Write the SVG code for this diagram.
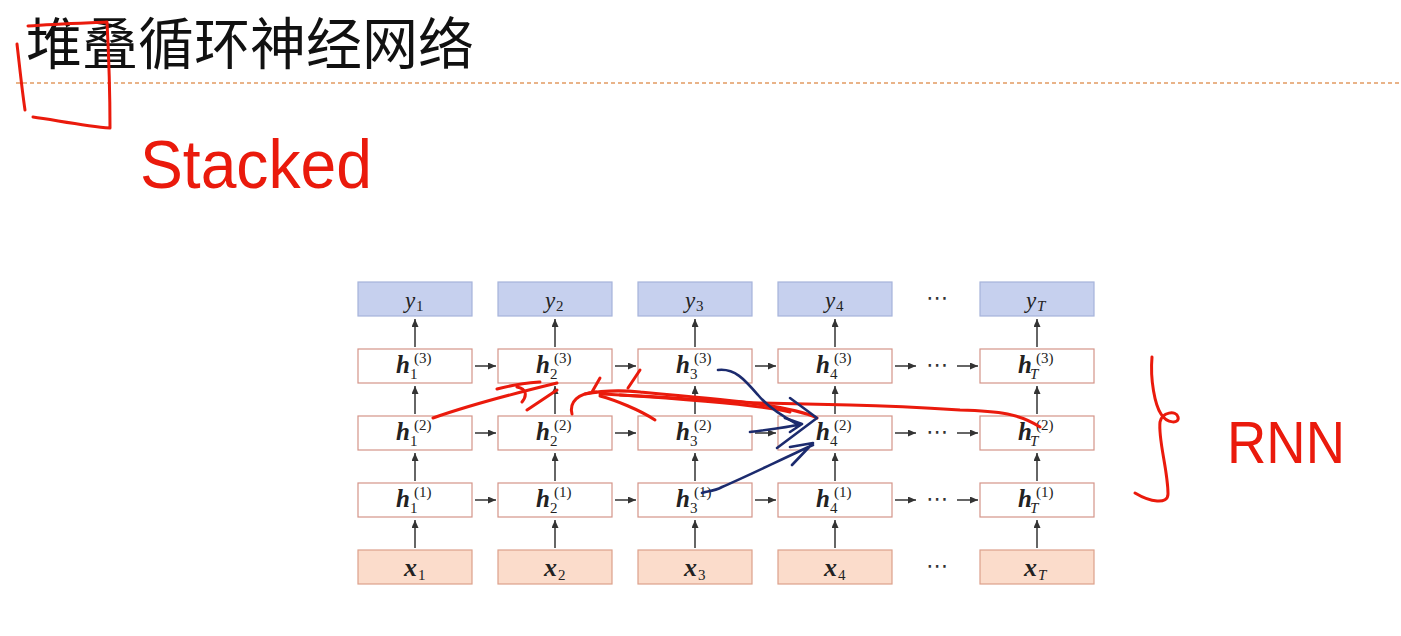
<svg xmlns="http://www.w3.org/2000/svg" width="1401" height="636" viewBox="0 0 1401 636">
<defs>
<marker id="ah" markerWidth="8" markerHeight="7" refX="8" refY="3.5" orient="auto" markerUnits="userSpaceOnUse"><path d="M0,0 L8,3.5 L0,7 z" fill="#333"/></marker>
<style>
.yb{fill:#c6d0ee;stroke:#a6b3da;stroke-width:1.2}
.hb{fill:#fff;stroke:#d49489;stroke-width:1.2}
.xb{fill:#fbdccb;stroke:#dda08b;stroke-width:1.2}
.yl{font-family:"Liberation Serif",serif;font-style:italic;font-size:23px;fill:#222}
.hl{font-family:"Liberation Serif",serif;font-style:italic;font-weight:bold;font-size:25px;fill:#222}
.xl{font-family:"Liberation Serif",serif;font-style:italic;font-weight:bold;font-size:26px;fill:#222}
.s{font-style:normal;font-weight:normal;font-size:15px}
.si{font-style:italic;font-weight:normal;font-size:15px}
.dots{font-family:"DejaVu Sans",sans-serif;font-size:22px;fill:#333}
.ar{stroke:#333;stroke-width:1.5;fill:none;marker-end:url(#ah)}
.red{stroke:#ea1a0c;stroke-width:3;fill:none;stroke-linecap:round;stroke-linejoin:round}
.blue{stroke:#1c2b6e;stroke-width:2.6;fill:none;stroke-linecap:round;stroke-linejoin:round}
.hand{font-family:"Liberation Sans",sans-serif;fill:#ea1a0c}
</style>
</defs>
<rect width="1401" height="636" fill="#fff"/>
<text x="26" y="64" font-family="Noto Sans CJK SC, sans-serif" font-size="56" fill="#111">堆叠循环神经网络</text>
<line x1="16" y1="83" x2="1401" y2="83" stroke="#e29a62" stroke-width="1.5" stroke-dasharray="4 3"/>

<g id="y1"><rect class="yb" x="358" y="282" width="114" height="34"/><text class="yl" x="405" y="308">y<tspan class="s" x="416" y="311">1</tspan></text></g>
<g id="y2"><rect class="yb" x="498" y="282" width="114" height="34"/><text class="yl" x="545" y="308">y<tspan class="s" x="556" y="311">2</tspan></text></g>
<g id="y3"><rect class="yb" x="638" y="282" width="114" height="34"/><text class="yl" x="685" y="308">y<tspan class="s" x="696" y="311">3</tspan></text></g>
<g id="y4"><rect class="yb" x="778" y="282" width="114" height="34"/><text class="yl" x="825" y="308">y<tspan class="s" x="836" y="311">4</tspan></text></g>
<g id="yT"><rect class="yb" x="980" y="282" width="114" height="34"/><text class="yl" x="1026" y="308">y<tspan class="si" x="1037" y="311">T</tspan></text></g>

<g id="h3_1"><rect class="hb" x="358" y="349" width="114" height="34"/><text class="hl" x="396" y="373">h<tspan class="s" x="410" y="379">1</tspan><tspan class="s" x="414" y="363">(3)</tspan></text></g>
<g id="h3_2"><rect class="hb" x="498" y="349" width="114" height="34"/><text class="hl" x="536" y="373">h<tspan class="s" x="550" y="379">2</tspan><tspan class="s" x="554" y="363">(3)</tspan></text></g>
<g id="h3_3"><rect class="hb" x="638" y="349" width="114" height="34"/><text class="hl" x="676" y="373">h<tspan class="s" x="690" y="379">3</tspan><tspan class="s" x="694" y="363">(3)</tspan></text></g>
<g id="h3_4"><rect class="hb" x="778" y="349" width="114" height="34"/><text class="hl" x="816" y="373">h<tspan class="s" x="830" y="379">4</tspan><tspan class="s" x="834" y="363">(3)</tspan></text></g>
<g id="h3_T"><rect class="hb" x="980" y="349" width="114" height="34"/><text class="hl" x="1018" y="373">h<tspan class="si" x="1030" y="379">T</tspan><tspan class="s" x="1036" y="363">(3)</tspan></text></g>

<g id="h2_1"><rect class="hb" x="358" y="416" width="114" height="34"/><text class="hl" x="396" y="440">h<tspan class="s" x="410" y="446">1</tspan><tspan class="s" x="414" y="430">(2)</tspan></text></g>
<g id="h2_2"><rect class="hb" x="498" y="416" width="114" height="34"/><text class="hl" x="536" y="440">h<tspan class="s" x="550" y="446">2</tspan><tspan class="s" x="554" y="430">(2)</tspan></text></g>
<g id="h2_3"><rect class="hb" x="638" y="416" width="114" height="34"/><text class="hl" x="676" y="440">h<tspan class="s" x="690" y="446">3</tspan><tspan class="s" x="694" y="430">(2)</tspan></text></g>
<g id="h2_4"><rect class="hb" x="778" y="416" width="114" height="34"/><text class="hl" x="816" y="440">h<tspan class="s" x="830" y="446">4</tspan><tspan class="s" x="834" y="430">(2)</tspan></text></g>
<g id="h2_T"><rect class="hb" x="980" y="416" width="114" height="34"/><text class="hl" x="1018" y="440">h<tspan class="si" x="1030" y="446">T</tspan><tspan class="s" x="1036" y="430">(2)</tspan></text></g>

<g id="h1_1"><rect class="hb" x="358" y="483" width="114" height="34"/><text class="hl" x="396" y="507">h<tspan class="s" x="410" y="513">1</tspan><tspan class="s" x="414" y="497">(1)</tspan></text></g>
<g id="h1_2"><rect class="hb" x="498" y="483" width="114" height="34"/><text class="hl" x="536" y="507">h<tspan class="s" x="550" y="513">2</tspan><tspan class="s" x="554" y="497">(1)</tspan></text></g>
<g id="h1_3"><rect class="hb" x="638" y="483" width="114" height="34"/><text class="hl" x="676" y="507">h<tspan class="s" x="690" y="513">3</tspan><tspan class="s" x="694" y="497">(1)</tspan></text></g>
<g id="h1_4"><rect class="hb" x="778" y="483" width="114" height="34"/><text class="hl" x="816" y="507">h<tspan class="s" x="830" y="513">4</tspan><tspan class="s" x="834" y="497">(1)</tspan></text></g>
<g id="h1_T"><rect class="hb" x="980" y="483" width="114" height="34"/><text class="hl" x="1018" y="507">h<tspan class="si" x="1030" y="513">T</tspan><tspan class="s" x="1036" y="497">(1)</tspan></text></g>

<g id="x1"><rect class="xb" x="358" y="550" width="114" height="34"/><text class="xl" x="404" y="576">x<tspan class="s" x="418" y="580">1</tspan></text></g>
<g id="x2"><rect class="xb" x="498" y="550" width="114" height="34"/><text class="xl" x="544" y="576">x<tspan class="s" x="558" y="580">2</tspan></text></g>
<g id="x3"><rect class="xb" x="638" y="550" width="114" height="34"/><text class="xl" x="684" y="576">x<tspan class="s" x="698" y="580">3</tspan></text></g>
<g id="x4"><rect class="xb" x="778" y="550" width="114" height="34"/><text class="xl" x="824" y="576">x<tspan class="s" x="838" y="580">4</tspan></text></g>
<g id="xT"><rect class="xb" x="980" y="550" width="114" height="34"/><text class="xl" x="1024" y="576">x<tspan class="si" x="1038" y="580">T</tspan></text></g>

<g id="ellipses">
<text class="dots" x="937" y="305" text-anchor="middle">⋯</text>
<text class="dots" x="937" y="372" text-anchor="middle">⋯</text>
<text class="dots" x="937" y="439" text-anchor="middle">⋯</text>
<text class="dots" x="937" y="506" text-anchor="middle">⋯</text>
<text class="dots" x="937" y="573" text-anchor="middle">⋯</text>
</g>

<g id="connectors">
<line class="ar" x1="415" y1="548" x2="415" y2="520"/><line class="ar" x1="415" y1="481" x2="415" y2="453"/><line class="ar" x1="415" y1="414" x2="415" y2="386"/><line class="ar" x1="415" y1="347" x2="415" y2="319"/>
<line class="ar" x1="555" y1="548" x2="555" y2="520"/><line class="ar" x1="555" y1="481" x2="555" y2="453"/><line class="ar" x1="555" y1="414" x2="555" y2="386"/><line class="ar" x1="555" y1="347" x2="555" y2="319"/>
<line class="ar" x1="695" y1="548" x2="695" y2="520"/><line class="ar" x1="695" y1="481" x2="695" y2="453"/><line class="ar" x1="695" y1="414" x2="695" y2="386"/><line class="ar" x1="695" y1="347" x2="695" y2="319"/>
<line class="ar" x1="835" y1="548" x2="835" y2="520"/><line class="ar" x1="835" y1="481" x2="835" y2="453"/><line class="ar" x1="835" y1="414" x2="835" y2="386"/><line class="ar" x1="835" y1="347" x2="835" y2="319"/>
<line class="ar" x1="1037" y1="548" x2="1037" y2="520"/><line class="ar" x1="1037" y1="481" x2="1037" y2="453"/><line class="ar" x1="1037" y1="414" x2="1037" y2="386"/><line class="ar" x1="1037" y1="347" x2="1037" y2="319"/>
<line class="ar" x1="475" y1="366" x2="496" y2="366"/><line class="ar" x1="615" y1="366" x2="636" y2="366"/><line class="ar" x1="755" y1="366" x2="776" y2="366"/><line class="ar" x1="895" y1="366" x2="916" y2="366"/><line class="ar" x1="957" y1="366" x2="978" y2="366"/>
<line class="ar" x1="475" y1="433" x2="496" y2="433"/><line class="ar" x1="615" y1="433" x2="636" y2="433"/><line class="ar" x1="755" y1="433" x2="776" y2="433"/><line class="ar" x1="895" y1="433" x2="916" y2="433"/><line class="ar" x1="957" y1="433" x2="978" y2="433"/>
<line class="ar" x1="475" y1="500" x2="496" y2="500"/><line class="ar" x1="615" y1="500" x2="636" y2="500"/><line class="ar" x1="755" y1="500" x2="776" y2="500"/><line class="ar" x1="895" y1="500" x2="916" y2="500"/><line class="ar" x1="957" y1="500" x2="978" y2="500"/>
</g>

<g id="annotations">
<path class="red" d="M17,44 C20,70 22,90 25,110"/>
<path class="red" d="M28,26 C55,24 85,23 107,22 C109,60 110,100 110,128 C85,126 55,120 33,117"/>
<text class="hand" x="140" y="188" font-size="68" textLength="232" lengthAdjust="spacingAndGlyphs">Stacked</text>
<path class="red" d="M1152,357 C1150,380 1155,405 1161,414 C1167,424 1180,424 1178,417 C1176,410 1162,412 1160,422 C1158,440 1168,470 1168,494 C1168,505 1150,502 1135,493"/>
<text class="hand" x="1227" y="463" font-size="60" textLength="118" lengthAdjust="spacingAndGlyphs">RNN</text>
<path class="red" d="M433,418 C470,405 520,392 557,383"/>
<path class="red" d="M497,389 C515,384 528,383 540,382 M517,387 C527,389 527,396 522,402 M527,410 L557,390"/>
<path class="red" d="M1040,427 C1020,414 1000,411 960,410 C930,408 900,406 850,405 L760,403 C700,400 650,396 600,394"/>
<path class="red" d="M817,418 C790,405 720,399 640,392 C620,390 600,391 585,394"/>
<path class="red" d="M790,412 C760,405 700,400 620,395"/>
<path class="red" d="M572,414 C569,402 578,393 596,392 M600,378 L592,392 M640,370 L628,388 M600,396 C615,400 640,410 655,420"/>
<path class="blue" d="M718,370 C735,368 745,380 758,395 C768,407 780,415 797,424"/>
<path class="blue" d="M790,398 L817,418 L777,448"/>
<path class="blue" d="M750,432 C765,430 785,428 802,424 M785,418 L802,424 L790,432"/>
<path class="blue" d="M702,493 C706,491 713,492 722,487 C752,474 782,459 813,445 M790,447 L813,443 L792,465"/>
</g>
</svg>
